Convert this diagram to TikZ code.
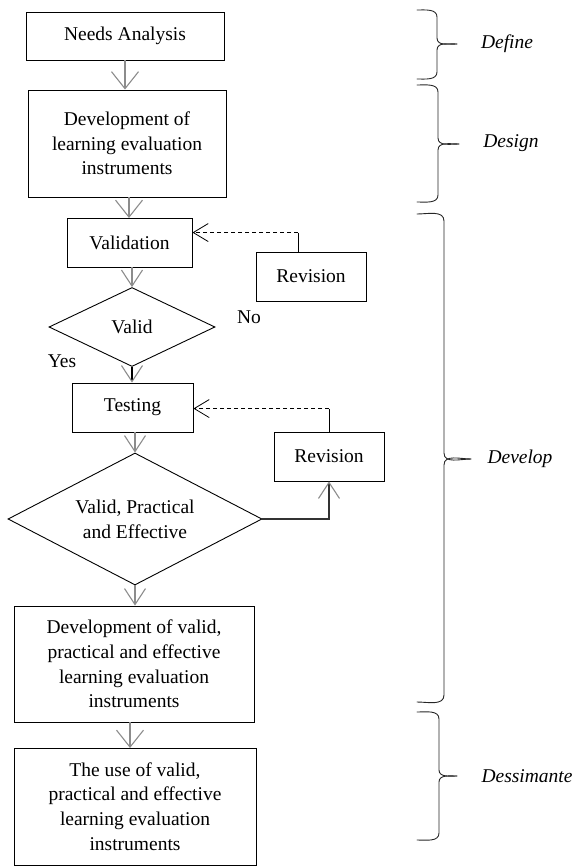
\documentclass[tikz,border=0pt]{standalone}
\usepackage{fontspec}
\setmainfont{Liberation Serif}
\usetikzlibrary{arrows.meta,shapes.geometric}
\begin{document}
\begin{tikzpicture}[x=1pt,y=-1pt,
  font=\fontsize{19.5}{24.7}\selectfont,
  box/.style={draw=black, line width=0.9pt, inner sep=0pt, align=center},
  dia/.style={draw=black, line width=0.9pt, diamond, inner sep=0pt, align=center},
  flow/.style={draw=black!45, line width=1.1pt, -{Straight Barb[length=17pt,width=27pt,line width=1.1pt]}},
  smallflow/.style={draw=black!55, line width=1.1pt, -{Straight Barb[length=16pt,width=21pt,line width=1.1pt,color=black!45]}},
  back/.style={draw=black, line width=0.8pt, dash pattern=on 4pt off 3pt, -{Straight Barb[length=15pt,width=18pt,line width=0.8pt]}},
  plain/.style={draw=black, line width=0.8pt},
  brace/.style={draw=black!85, line width=0.9pt, line cap=round},
  phase/.style={font=\fontsize{19.5}{24.7}\selectfont\itshape, inner sep=0pt}
]
\useasboundingbox (0,0) rectangle (576,867);

% main flow
\node[box, minimum width=198pt, minimum height=48pt] (na) at (125,36) {Needs Analysis};
\node[box, minimum width=198pt, minimum height=107pt] (dev) at (127,143.5) {Development of\\learning evaluation\\instruments};
\node[box, minimum width=125pt, minimum height=49pt] (val) at (129.5,242.5) {Validation};
\node[dia, aspect=2.1, minimum width=166pt, minimum height=79pt] (d1) at (132,327) {Valid};
\node[box, minimum width=110pt, minimum height=49pt] (rev1) at (311,276.5) {Revision};
\node[box, minimum width=121pt, minimum height=49pt] (test) at (132.5,407.5) {Testing};
\node[box, minimum width=110pt, minimum height=49pt] (rev2) at (329,456.5) {Revision};
\node[dia, aspect=1.92, minimum width=254pt, minimum height=132pt] (d2) at (135,519) {Valid, Practical\\and Effective};
\node[box, minimum width=240pt, minimum height=116pt] (dev2) at (134,664) {Development of valid,\\practical and effective\\learning evaluation\\instruments};
\node[box, minimum width=242pt, minimum height=117pt] (use) at (135,806.5) {The use of valid,\\practical and effective\\learning evaluation\\instruments};

\node[inner sep=0pt] (yes) at (62,361) {Yes};
\node[inner sep=0pt] (no) at (249,317) {No};

% connectors
\draw[flow] (na.south -| 125,0) -- (na.south |- dev.north);
\draw[flow] (dev.south -| 129,0) -- (129,218);
\draw[smallflow, draw=black!45] (132,267) -- (d1.north);
\draw[smallflow, draw=black] (d1.south) -- (test.north -| d1.south);
\draw[smallflow, draw=black!45] (test.south -| d2.north) -- (d2.north);
\draw[smallflow, draw=black!45] (d2.south) -- (dev2.north -| d2.south);
\draw[flow] (dev2.south -| 130,0) -- (130,748);
\draw[smallflow, draw=black!80] (d2.east) -| (rev2.south);

\coordinate (r1a) at ([xshift=-13pt]rev1.north);
\coordinate (r1b) at ([yshift=19pt]r1a);
\draw[plain] (r1a) -- (r1b);
\draw[back] (r1b) -- (val.east |- r1b);

\coordinate (r2b) at ([yshift=23pt]rev2.north);
\draw[plain] (rev2.north) -- (r2b);
\draw[back] (r2b) -- (test.east |- r2b);

% phase braces
\draw[brace] (417,10) to[out=0,in=90] (437,17) -- (437,38) to[out=-90,in=180] (457,44);
\draw[brace] (457,44) to[out=180,in=90] (437,50) -- (437,72) to[out=-90,in=0] (417,79);
\node[phase] (pdef) at (507,44) {Define};

\draw[brace] (417,85) to[out=0,in=90] (438,92) -- (438,138) to[out=-90,in=180] (459,144);
\draw[brace] (459,144) to[out=180,in=90] (438,150) -- (438,195) to[out=-90,in=0] (417,202);
\node[phase] (pdes) at (511,143) {Design};

\draw[brace] (417,214) to[out=0,in=90] (444,221) -- (444,453) to[out=-90,in=180] (471,459);
\draw[brace] (471,459) to[out=180,in=90] (444,465) -- (444,695) to[out=-90,in=0] (417,702);
\node[phase] (pdev) at (520,459) {Develop};

\draw[brace] (417,712) to[out=0,in=90] (439,719) -- (439,770) to[out=-90,in=180] (457,776);
\draw[brace] (457,776) to[out=180,in=90] (439,782) -- (439,833) to[out=-90,in=0] (417,840);
\node[phase] (pdis) at (527,776) {Dessimante};
\end{tikzpicture}
\end{document}
